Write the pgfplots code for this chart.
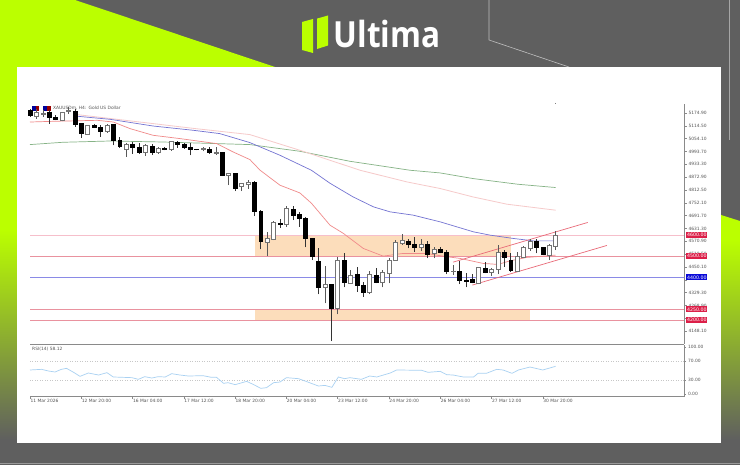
\documentclass[border=0pt]{standalone}
\usepackage{pgfplots}
\usepackage{fontspec}
\pgfplotsset{compat=1.18}
\setmainfont{DejaVu Sans}
\newfontfamily\logofont{Open Sans}
\definecolor{lime}{HTML}{BBFF00}
\definecolor{bggrey}{HTML}{5F5F5F}
\definecolor{axisg}{HTML}{8A8A8A}
\definecolor{txt}{HTML}{555555}
\definecolor{zone}{HTML}{FCDDBB}
\definecolor{tagred}{HTML}{DC1F48}
\definecolor{tagblue}{HTML}{0A0AD8}
\definecolor{lvlA}{HTML}{F6BFCB}
\definecolor{lvlB}{HTML}{E9929F}
\definecolor{lvlC}{HTML}{8A8AE6}
\definecolor{maG}{HTML}{86B386}
\definecolor{maP}{HTML}{F6CACA}
\definecolor{maB}{HTML}{7474D2}
\definecolor{maR}{HTML}{F08A8A}
\definecolor{trend}{HTML}{E96A78}
\definecolor{rsi}{HTML}{A9D1F2}
\newcommand\chartfont{\fontsize{4.4bp}{5.2bp}\selectfont}
\newcommand\tagfont{\fontsize{4.7bp}{5.5bp}\selectfont}
% candles: index, low, body bottom, body top, high
\newcommand\bk[5]{%
  \pgfmathsetmacro\xa{#1-0.31}\pgfmathsetmacro\xb{#1+0.31}%
  \addplot[draw=black!80,line width=0.55bp,forget plot] coordinates {(#1,#2)(#1,#5)};
  \addplot[draw=black,fill=black,line width=0.5bp,forget plot] coordinates {(\xa,#3)(\xb,#3)(\xb,#4)(\xa,#4)} --cycle;
}
\newcommand\wh[5]{%
  \pgfmathsetmacro\xa{#1-0.31}\pgfmathsetmacro\xb{#1+0.31}%
  \addplot[draw=black!65,line width=0.55bp,forget plot] coordinates {(#1,#2)(#1,#5)};
  \addplot[draw=black!55,fill=white,line width=0.5bp,forget plot] coordinates {(\xa,#3)(\xb,#3)(\xb,#4)(\xa,#4)} --cycle;
}
\begin{document}
\begin{tikzpicture}
\begin{scope}[x=1bp,y=-1bp]
\clip (0,0) rectangle (740,465);
\fill[bggrey] (0,0) rectangle (740,465);
\fill[lime] (0,0) -- (75,0) -- (275,67) -- (17,67) -- (17,230) -- (0,230) -- cycle;
\shade[top color=lime,bottom color=bggrey] (0,230) rectangle (17,440);
\begin{scope}
\clip (721,215) -- (740,221) -- (740,440) -- (721,440) -- cycle;
\fill[lime] (721,210) rectangle (740,240);
\shade[top color=lime,bottom color=bggrey] (721,240) rectangle (740,440);
\end{scope}
\draw[black!25,line width=0.6bp] (489,0) -- (489,40) -- (569,67);
\draw[black!35,line width=0.5bp] (729,0) -- (729,140);
\draw[black!40,line width=0.5bp] (0,463.5) -- (740,463.5);
\fill[white] (17,67) rectangle (721,443);
% logo
\fill[lime] (302,22) -- (313,19) -- (313,53) -- (302,50) -- cycle;
\fill[lime] (317,18.6) -- (328,15.5) -- (328,45.5) -- (317,49) -- cycle;
\node[anchor=base west,inner sep=0pt,text=white,xscale=0.875] at (333.5,48) {\logofont\bfseries\fontsize{36bp}{38bp}\selectfont Ultima};
% chart window icon
\fill[blue!60!black] (32,106) rectangle (35.5,111);
\fill[red!60!black] (35.5,106) rectangle (39,111);
\fill[blue!60!black] (43,106) rectangle (47,111);
\fill[red!60!black] (47,106) rectangle (51,111);
\draw[black!50,line width=0.4bp] (555.5,103) -- (555.5,104.5);
\node[anchor=west,inner sep=0pt,text=txt] at (53,108.3) {\chartfont XAUUSDm, H4:\enspace Gold US Dollar};
\end{scope}

\begin{axis}[
  at={(30bp,-344bp)},anchor=south west,
  width=654bp,height=240bp,scale only axis,
  xmin=0,xmax=102.03,ymin=4087.8,ymax=5217.2,
  clip=false,
  axis x line=none,axis y line=right,
  axis line style={-,draw=axisg,line width=0.8bp},
  ytick={5174.9,5114.5,5054.1,4993.7,4933.3,4872.9,4812.5,4752.1,4691.7,4631.3,4570.9,4510.5,4450.1,4389.7,4329.3,4268.9,4208.5,4148.1},
  yticklabels={5174.90,5114.50,5054.10,4993.70,4933.30,4872.90,4812.50,4752.10,4691.70,4631.30,4570.90,4510.50,4450.10,,4329.30,4268.90,,4148.10},
  tick align=outside,major tick length=2.5bp,
  tick style={draw=axisg,line width=0.4bp},
  yticklabel style={font=\chartfont,text=txt,xshift=-1.5bp},
]
% zones
\addplot[fill=zone,draw=none,forget plot] coordinates {(35.1,4600)(75,4600)(75,4500)(35.1,4500)} --cycle;
\addplot[fill=zone,draw=none,forget plot] coordinates {(35.1,4250)(78,4250)(78,4200)(35.1,4200)} --cycle;
% horizontal levels
\addplot[draw=lvlA,line width=1.2bp,forget plot] coordinates {(0,4600)(102.03,4600)};
\addplot[draw=lvlB,line width=0.8bp,forget plot] coordinates {(0,4500)(102.03,4500)};
\addplot[draw=lvlC,line width=0.8bp,forget plot] coordinates {(0,4400)(102.03,4400)};
\addplot[draw=lvlB,line width=0.8bp,forget plot] coordinates {(0,4250)(102.03,4250)};
\addplot[draw=lvlB,line width=0.8bp,forget plot] coordinates {(0,4200)(102.03,4200)};
% moving averages
\addplot[draw=maG,line width=0.7bp,forget plot] coordinates {(0,5026.2)(5.1,5037)(12.5,5043.1)(20.7,5038.4)(34.3,5026.2)(42.1,4994.7)(49.9,4947.7)(59.3,4905.4)(64,4892.8)(69.1,4866.4)(76.1,4839.6)(82,4824.1)};
\addplot[draw=maP,line width=0.8bp,forget plot] coordinates {(7,5168.6)(25.4,5102.8)(34.3,5073.2)(42.1,4999.4)(51.5,4905.4)(58.8,4850.5)(64,4819.4)(69.1,4780)(74.4,4745.7)(82,4717.5)};
\addplot[draw=maB,line width=0.7bp,forget plot] coordinates {(7,5160.6)(12.5,5145.1)(19.2,5113.6)(25.5,5093.4)(29.6,5077.9)(34.3,5035.6)(39,4975.9)(43.9,4905.4)(46.8,4844.3)(50.4,4780)(53.6,4733)(56.2,4709.5)(59.8,4694)(64,4662.5)(66.6,4639)(69.2,4615.5)(71.8,4600)(75.4,4584.5)(78.5,4573.2)(82,4573.2)};
\addplot[draw=maR,line width=0.7bp,forget plot] coordinates {(0,5132.4)(3.6,5135.7)(10.5,5140.4)(13,5132.4)(15.6,5101.4)(19.2,5069.9)(23.4,5054.4)(29.1,5030.9)(31.7,4991.4)(34.3,4955.7)(35.9,4905.4)(39,4835)(42.1,4798.8)(43.9,4750.4)(46.8,4647)(48.9,4608)(52,4537.5)(55.1,4501.3)(58.2,4514)(61.9,4514)(64.4,4501.3)(67.1,4490.5)(70.7,4467)(73,4462.3)(74.9,4479.2)(77.5,4495.2)(82,4506)};
% trend channel
\addplot[draw=trend,line width=0.7bp,forget plot] coordinates {(66,4473)(87,4659.7)};
\addplot[draw=trend,line width=0.7bp,forget plot] coordinates {(69,4365)(90,4551.6)};
% candles: index, low, body bottom, body top, high
\bk{0}{5156.1}{5163.9}{5187.4}{5195.2}
\wh{1}{5148}{5161}{5179.6}{5195}
\wh{2}{5156}{5168.6}{5171.8}{5187.4}
\bk{3}{5124.8}{5153}{5179.6}{5187}
\bk{4}{5140.4}{5143.6}{5154.5}{5167}
\wh{5}{5135.7}{5140.4}{5176.4}{5179.6}
\wh{6}{5171.8}{5182.7}{5187.4}{5203}
\bk{7}{5109.1}{5121.6}{5182.7}{5195.2}
\bk{8}{5057.4}{5080.9}{5124.8}{5124.8}
\wh{9}{5073}{5076.2}{5115.4}{5120.1}
\bk{10}{5104.4}{5107.5}{5116.9}{5124.8}
\bk{11}{5062.1}{5088.7}{5106}{5116.9}
\wh{12}{5082.5}{5088.7}{5116.9}{5124.8}
\bk{13}{5022.9}{5046.4}{5120}{5124.8}
\bk{14}{5010.4}{5018.2}{5046.4}{5062.1}
\wh{15}{4968.1}{5005.7}{5027.6}{5035.5}
\bk{16}{4983.8}{5012}{5026}{5038.6}
\bk{17}{4983.8}{4988.5}{5012}{5033.9}
\wh{18}{4972.8}{4990}{5021.4}{5030.8}
\bk{19}{4979}{4988.5}{5019.8}{5030.8}
\wh{20}{4983.8}{4988.5}{5007.3}{5015.1}
\bk{21}{4999.4}{5004.1}{5008.8}{5015.1}
\wh{22}{4996.3}{5002.6}{5040.2}{5043.3}
\bk{23}{5010.4}{5027.6}{5037}{5043.3}
\bk{24}{5007.3}{5013.5}{5026}{5035.5}
\bk{25}{4975.9}{5002.6}{5013.5}{5035.5}
\bk{26}{4999.4}{5002.6}{5005.7}{5007.3}
\wh{27}{4994.7}{5004.2}{5007.3}{5015.1}
\bk{28}{4983.8}{4988.5}{5004.2}{5015.1}
\wh{29}{4979}{4986.9}{4988.5}{5015.1}
\bk{30}{4877.3}{4881.9}{4988.5}{4991.6}
\wh{31}{4835}{4881.9}{4889.8}{4894.5}
\bk{32}{4806.8}{4819.3}{4889.8}{4894.5}
\wh{33}{4806.8}{4831.8}{4842.8}{4847.5}
\wh{34}{4819.3}{4841.2}{4850.6}{4858.5}
\bk{35}{4689.2}{4711.2}{4850.6}{4853.7}
\bk{36}{4532.6}{4573.3}{4711.2}{4720.6}
\wh{37}{4501.3}{4568.6}{4587.4}{4615.6}
\wh{38}{4576.4}{4582.7}{4661.1}{4667.3}
\bk{39}{4636}{4650.1}{4657.9}{4678.3}
\wh{40}{4639.1}{4650.1}{4725.3}{4736.2}
\bk{41}{4670.4}{4694}{4723.7}{4736.2}
\bk{42}{4639.1}{4681.4}{4697.1}{4709.6}
\bk{43}{4542}{4584.3}{4679.8}{4686.1}
\bk{44}{4482.5}{4501.3}{4584.3}{4587.4}
\bk{45}{4321.1}{4355.6}{4479.3}{4537.3}
\wh{46}{4278.8}{4354}{4368.1}{4455.8}
\bk{47}{4101.8}{4253.8}{4368.1}{4368.1}
\wh{48}{4227.2}{4253.8}{4480.9}{4495}
\bk{49}{4354}{4377.5}{4480.9}{4513.8}
\wh{50}{4372.8}{4376}{4410.4}{4435.5}
\bk{51}{4333.6}{4366.6}{4415.1}{4448}
\bk{52}{4310.2}{4333.6}{4366.6}{4380.6}
\wh{53}{4322.7}{4332.1}{4415.1}{4430.8}
\bk{54}{4372.8}{4380.6}{4413.6}{4443.3}
\wh{55}{4354}{4377.5}{4424.5}{4435.5}
\wh{56}{4372.8}{4423}{4480.9}{4490.3}
\wh{57}{4479.3}{4482.5}{4567}{4576.4}
\wh{58}{4554.5}{4563.9}{4576.4}{4604.7}
\bk{59}{4537.3}{4557.6}{4573.3}{4579.6}
\bk{60}{4521.6}{4545.1}{4557.6}{4589}
\wh{61}{4524.8}{4545.1}{4557.6}{4581.2}
\bk{62}{4490.3}{4509.1}{4557.6}{4573.3}
\wh{63}{4490.3}{4513.8}{4535.7}{4542}
\bk{64}{4513.8}{4521.6}{4535.7}{4542}
\bk{65}{4416.7}{4430.8}{4521.6}{4529.5}
\wh{66}{4412}{4430.8}{4432.4}{4459}
\bk{67}{4369.7}{4388.5}{4430.8}{4479.3}
\bk{68}{4354}{4383.8}{4390}{4419.8}
\bk{69}{4372.8}{4380.6}{4393.2}{4416.7}
\wh{70}{4369.7}{4372.8}{4448}{4451.1}
\bk{71}{4419.8}{4427.6}{4444.9}{4474.6}
\wh{72}{4407.3}{4427.6}{4440.2}{4446.4}
\wh{73}{4416.7}{4438.6}{4518.5}{4553}
\bk{74}{4451.1}{4495}{4518.5}{4529.5}
\bk{75}{4427.6}{4433.9}{4480.9}{4513.8}
\wh{76}{4427.6}{4432.4}{4499.7}{4518.5}
\wh{77}{4495}{4498.1}{4542}{4548.3}
\wh{78}{4526.3}{4540.4}{4570.2}{4579.6}
\bk{79}{4513.8}{4542}{4570.2}{4581.2}
\bk{80}{4506}{4510.7}{4542}{4545.1}
\wh{81}{4482.5}{4506}{4551.4}{4557.6}
\wh{82}{4529.5}{4548.3}{4600}{4620.3}
\end{axis}

\begin{axis}[
  at={(30bp,-396.5bp)},anchor=south west,
  width=654bp,height=52bp,scale only axis,
  xmin=0,xmax=102.03,ymin=-5.3,ymax=105.3,
  clip=false,
  axis x line=bottom,axis y line=right,
  axis line style={-,draw=axisg,line width=0.8bp},
  ytick={0,30,70,100},
  yticklabels={0.00,30.00,70.00,100.00},
  xtick={0,8,...,80},
  xticklabels={11 Mar 2026,12 Mar 20:00,16 Mar 04:00,17 Mar 12:00,18 Mar 20:00,20 Mar 04:00,23 Mar 12:00,24 Mar 20:00,26 Mar 04:00,27 Mar 12:00,30 Mar 20:00},
  tick align=outside,major tick length=2bp,
  tick style={draw=axisg,line width=0.4bp},
  xticklabel style={font=\chartfont,text=txt,anchor=north west,xshift=-3bp,yshift=3bp},
  yticklabel style={font=\chartfont,text=txt,xshift=-1.5bp},
]
\addplot[draw=axisg,line width=1.6bp,forget plot] coordinates {(0,105.3)(102.03,105.3)};
\addplot[draw=black!22,dotted,line width=0.5bp,forget plot] coordinates {(0,70)(102.03,70)};
\addplot[draw=black!22,dotted,line width=0.5bp,forget plot] coordinates {(0,30)(102.03,30)};
\addplot[draw=rsi,line width=0.7bp,forget plot] coordinates {(0,51.1)(1.8,52.5)(2.9,48.9)(3.9,46.8)(4.9,52.5)(5.7,54.6)(6.8,46.1)(7.8,37.6)(9.1,44.7)(10.7,40.4)(12,45.4)(13,36.2)(15.9,34.8)(16.9,31.2)(17.9,36.9)(19,34)(20,36.9)(21.1,36.2)(22.1,43.3)(23.4,40.4)(24.7,38.3)(27,39)(28.3,35.5)(29.1,35.5)(30.2,22.7)(30.9,24.1)(32,19.9)(33.8,26.9)(34.8,20.6)(36,12.1)(36.9,13.5)(38,24.1)(39,25.5)(40,34.8)(41.9,32.6)(43.2,26.2)(45,17)(46,18.4)(47.1,14.2)(48.1,36.2)(49.1,32.6)(49.9,34.8)(51.7,31.2)(53,38.3)(54.1,36.2)(56.2,44.7)(57.2,51.1)(61.1,50.4)(62.1,46.1)(64,48.2)(65,41.1)(66,40.4)(67.6,36.2)(69.2,36.2)(69.9,44)(71.2,44)(72.8,52.5)(73.8,51.1)(75.2,44)(76.2,51.1)(78,57.4)(80,51.1)(82,58.9)};
\end{axis}

\begin{scope}[x=1bp,y=-1bp,every node/.style={anchor=west,inner xsep=0.9bp,inner ysep=0.8bp,text=white,minimum height=6bp,font=\tagfont}]
\node[anchor=west,inner sep=0pt,text=txt,font=\chartfont] at (32,349) {RSI(14) 58.12};
\node[fill=tagred] at (686,235) {4600.00};
\node[fill=tagred] at (686,256.2) {4500.00};
\node[fill=tagblue] at (686,277.5) {4400.00};
\node[fill=tagred] at (686,309.4) {4250.00};
\node[fill=tagred] at (686,320) {4200.00};
\end{scope}
\end{tikzpicture}
\end{document}
